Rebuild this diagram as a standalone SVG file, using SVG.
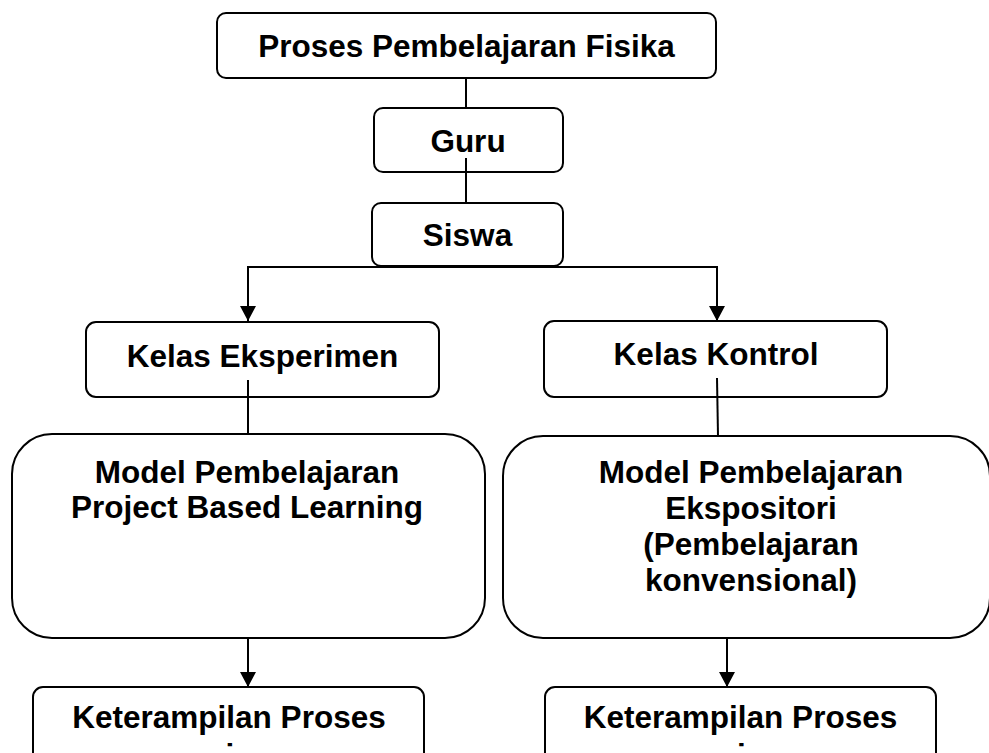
<svg xmlns="http://www.w3.org/2000/svg" width="989" height="753" viewBox="0 0 989 753">
  <style>
    .box { fill: #ffffff; stroke: #000000; stroke-width: 2; }
    .lbl { font-family: "Liberation Sans", Arial, sans-serif; font-weight: bold; font-size: 31.5px; fill: #000000; text-anchor: middle; }
    .con { stroke: #000000; stroke-width: 2; fill: none; }
  </style>
  <defs>
    <marker id="arr" markerUnits="userSpaceOnUse" markerWidth="16" markerHeight="16" viewBox="0 0 16 16" refX="15" refY="8" orient="auto">
      <path d="M0,0 L15,8 L0,16 Z" fill="#000000"/>
    </marker>
    <clipPath id="dotL"><rect x="222" y="736" width="14" height="13"/></clipPath>
    <clipPath id="dotR"><rect x="733" y="736" width="14" height="13"/></clipPath>
  </defs>
  <rect width="989" height="753" fill="#ffffff"/>

  <g id="proses">
    <rect class="box" x="217" y="13" width="499" height="65" rx="9"/>
    <text class="lbl" x="466.5" y="57">Proses Pembelajaran Fisika</text>
  </g>
  <g id="guru">
    <rect class="box" x="374" y="108" width="189" height="64" rx="9"/>
    <text class="lbl" x="468" y="152">Guru</text>
  </g>
  <g id="siswa">
    <rect class="box" x="372" y="203" width="191" height="63" rx="9"/>
    <text class="lbl" x="467.5" y="246">Siswa</text>
  </g>
  <g id="kelas-eksperimen">
    <rect class="box" x="86" y="322" width="353" height="75" rx="10"/>
    <text class="lbl" x="262.5" y="367">Kelas Eksperimen</text>
  </g>
  <g id="kelas-kontrol">
    <rect class="box" x="544" y="321" width="343" height="76" rx="10"/>
    <text class="lbl" x="716" y="365">Kelas Kontrol</text>
  </g>
  <g id="model-pbl">
    <rect class="box" x="12" y="434" width="473" height="204" rx="40"/>
    <text class="lbl" x="247" y="483">Model Pembelajaran</text>
    <text class="lbl" x="247" y="518">Project Based Learning</text>
  </g>
  <g id="model-ekspositori">
    <rect class="box" x="503" y="436" width="487" height="202" rx="40"/>
    <text class="lbl" x="751" y="483">Model Pembelajaran</text>
    <text class="lbl" x="751" y="519">Ekspositori</text>
    <text class="lbl" x="751" y="555">(Pembelajaran</text>
    <text class="lbl" x="751" y="591">konvensional)</text>
  </g>
  <g id="kps-eksperimen">
    <rect class="box" x="33" y="687" width="391" height="90" rx="10"/>
    <text class="lbl" x="229" y="728">Keterampilan Proses</text>
    <text class="lbl" x="229" y="765.5" clip-path="url(#dotL)">Sains</text>
  </g>
  <g id="kps-kontrol">
    <rect class="box" x="545" y="687" width="391" height="90" rx="10"/>
    <text class="lbl" x="740.5" y="728">Keterampilan Proses</text>
    <text class="lbl" x="740.5" y="765.5" clip-path="url(#dotR)">Sains</text>
  </g>

  <g id="connectors">
    <line class="con" x1="466" y1="78" x2="466" y2="108"/>
    <line class="con" x1="466" y1="158" x2="466" y2="203"/>
    <line class="con" x1="247" y1="267" x2="718" y2="267"/>
    <line class="con" x1="248" y1="267" x2="248" y2="321" marker-end="url(#arr)"/>
    <line class="con" x1="717" y1="267" x2="717" y2="321" marker-end="url(#arr)"/>
    <line class="con" x1="248" y1="380" x2="248" y2="434"/>
    <line class="con" x1="717" y1="378" x2="718" y2="436"/>
    <line class="con" x1="248" y1="638" x2="248" y2="687" marker-end="url(#arr)"/>
    <line class="con" x1="727" y1="638" x2="727" y2="687" marker-end="url(#arr)"/>
  </g>
</svg>
